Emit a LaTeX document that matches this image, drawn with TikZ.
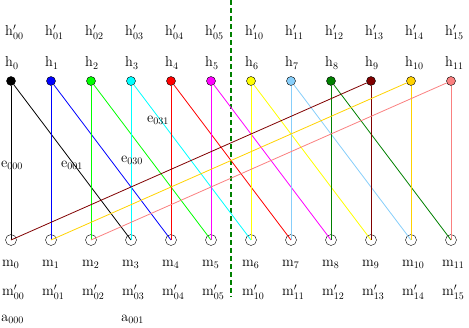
\documentclass[tikz,border=0pt]{standalone}
\usepackage{amsmath}
\usepackage{amssymb}

\definecolor{hgreen}{RGB}{0,255,0}
\definecolor{hcyan}{RGB}{0,255,255}
\definecolor{hred}{RGB}{255,0,0}
\definecolor{hmagenta}{RGB}{255,0,255}
\definecolor{hyellow}{RGB}{255,255,0}
\definecolor{hsky}{RGB}{135,206,250}
\definecolor{hdgreen}{RGB}{0,128,0}
\definecolor{hdred}{RGB}{128,0,0}
\definecolor{hgold}{RGB}{255,210,0}
\definecolor{hpink}{RGB}{250,128,128}

\begin{document}
\begin{tikzpicture}[x=1pt,y=-1pt,font=\fontsize{14.5}{16}\selectfont,
  hnode/.style={circle,draw=black,inner sep=0pt,minimum size=9pt},
  mnode/.style={circle,draw=black,inner sep=0pt,minimum size=11pt},
  lbl/.style={inner sep=0pt,anchor=west},
  wire/.style={line width=0.8pt}]
  \useasboundingbox (0,0) rectangle (469,327);

  % dashed separator between the two halves
  \coordinate (septop) at (231,0);
  \coordinate (sepbot) at (231,297);
  \draw[color=hdgreen,line width=1.2pt,dash pattern=on 5pt off 3pt] (septop) -- (sepbot);

  % upper (filled) and lower (open) rows
  \foreach \i/\c/\p in {0/black/00,1/blue/01,2/hgreen/02,3/hcyan/03,4/hred/04,5/hmagenta/05,
                        6/hyellow/10,7/hsky/11,8/hdgreen/12,9/hdred/13,10/hgold/14,11/hpink/15} {
    \node[hnode,fill=\c] (h\i) at ({11+40*\i},81) {};
    \node[mnode] (m\i) at ({11+40*\i},240) {};
    \node[lbl] (hp\i) at ({5+40*\i},32) {$\mathrm{h}'_{\p}$};
    \node[lbl] (hl\i) at ({5+40*\i},63) {$\mathrm{h}_{\i}$};
    \node[lbl] (ml\i) at ({2+40*\i},264) {$\mathrm{m}_{\i}$};
    \node[lbl] (mp\i) at ({2+40*\i},292) {$\mathrm{m}'_{\p}$};
  }

  % each h goes straight down and to the m three places on
  \foreach \i/\c in {0/black,1/blue,2/hgreen,3/hcyan,4/hred,5/hmagenta,
                     6/hyellow,7/hsky,8/hdgreen,9/hdred,10/hgold,11/hpink} {
    \pgfmathtruncatemacro{\j}{mod(\i+3,12)}
    \draw[wire,color=\c] (h\i) -- (m\i.center);
    \draw[wire,color=\c] (h\i) -- (m\j.center);
  }

  \node[lbl] (e000) at (1,165) {$\mathrm{e}_{000}$};
  \node[lbl] (e001) at (61,165) {$\mathrm{e}_{001}$};
  \node[lbl] (e030) at (121,160) {$\mathrm{e}_{030}$};
  \node[lbl] (e031) at (147,120) {$\mathrm{e}_{031}$};

  \node[lbl] (a000) at (1,319) {$\mathrm{a}_{000}$};
  \node[lbl] (a001) at (121,319) {$\mathrm{a}_{001}$};
\end{tikzpicture}
\end{document}
